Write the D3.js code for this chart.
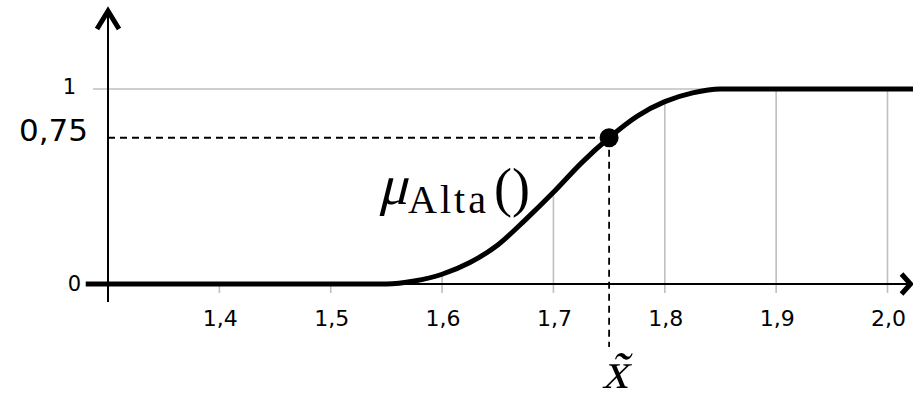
<!DOCTYPE html>
<html>
<head>
<meta charset="utf-8">
<script src="https://cdn.jsdelivr.net/npm/d3@7"></script>
<style>
  html, body { margin: 0; padding: 0; background: #fff; }
  svg { display: block; }
</style>
</head>
<body>
<svg id="chart" width="913" height="400"></svg>
<script>
// Membership function of the fuzzy set "Alta" (height in metres)
const curveX = [1.28, 1.55, 1.575, 1.60, 1.625, 1.65, 1.675, 1.70, 1.725, 1.75, 1.775, 1.80,  1.825, 1.85, 2.03];
const curveY = [0,    0,    0.015, 0.05, 0.11,  0.20, 0.33,  0.47, 0.62,  0.75, 0.86,  0.935, 0.98,  1.0,  1.0];

// Axis ticks
const xTicks = [1.4, 1.5, 1.6, 1.7, 1.8, 1.9, 2.0];
const xTickLabels = ["1,4", "1,5", "1,6", "1,7", "1,8", "1,9", "2,0"];
const yTicks = [0, 1];
const yTickLabels = ["0", "1"];

// Highlighted point
const pointX = [1.75];
const pointY = [0.75];
const pointYLabel = ["0,75"];

const svg = d3.select("#chart");
const x = d3.scaleLinear().domain([1.3, 2.0]).range([108, 887.5]);
const y = d3.scaleLinear().domain([0, 1]).range([284, 89]);

const grey = "#bfbfbf";
const data = curveX.map((v, i) => ({ x: v, y: curveY[i] }));
const valueAt = v => {
  const d = data.find(p => Math.abs(p.x - v) < 1e-9);
  return d ? d.y : (v < 1.55 ? 0 : 1);
};

// grid line at membership 1
svg.append("line")
  .attr("x1", 93).attr("x2", 913)
  .attr("y1", y(1)).attr("y2", y(1))
  .attr("stroke", grey).attr("stroke-width", 1.6);

// vertical drop lines from the curve to below the axis
svg.selectAll("line.drop").data(xTicks).join("line")
  .attr("class", "drop")
  .attr("x1", d => x(d)).attr("x2", d => x(d))
  .attr("y1", d => y(valueAt(d)))
  .attr("y2", y(0) + 9)
  .attr("stroke", grey).attr("stroke-width", 1.6);

// x axis with arrow
svg.append("line")
  .attr("x1", 94).attr("x2", 910)
  .attr("y1", y(0)).attr("y2", y(0))
  .attr("stroke", "#000").attr("stroke-width", 2);
svg.append("path")
  .attr("d", `M${x(2.0) + 14},${y(0) - 10} L${x(2.0) + 23},${y(0)} L${x(2.0) + 14},${y(0) + 10}`)
  .attr("fill", "none").attr("stroke", "#000").attr("stroke-width", 5)
  .attr("stroke-linejoin", "miter");

// y axis with arrow
svg.append("line")
  .attr("x1", x(1.3)).attr("x2", x(1.3))
  .attr("y1", 11).attr("y2", 302)
  .attr("stroke", "#000").attr("stroke-width", 2);
svg.append("path")
  .attr("d", `M${x(1.3) - 11},29 L${x(1.3)},11 L${x(1.3) + 11},29`)
  .attr("fill", "none").attr("stroke", "#000").attr("stroke-width", 5)
  .attr("stroke-linejoin", "miter");

// dashed guides to the highlighted point
svg.append("line")
  .attr("x1", x(1.3)).attr("x2", x(pointX[0]))
  .attr("y1", y(pointY[0])).attr("y2", y(pointY[0]))
  .attr("stroke", "#000").attr("stroke-width", 1.8)
  .attr("stroke-dasharray", "7,5");
svg.append("line")
  .attr("x1", x(pointX[0])).attr("x2", x(pointX[0]))
  .attr("y1", y(pointY[0])).attr("y2", 347)
  .attr("stroke", "#000").attr("stroke-width", 1.8)
  .attr("stroke-dasharray", "7,5");

// membership curve
svg.append("path")
  .datum(data)
  .attr("d", d3.line().x(d => x(d.x)).y(d => y(d.y)).curve(d3.curveMonotoneX))
  .attr("fill", "none").attr("stroke", "#000").attr("stroke-width", 5);

// highlighted point
svg.selectAll("circle.pt").data(pointX).join("circle")
  .attr("class", "pt")
  .attr("cx", (d) => x(d)).attr("cy", (d, i) => y(pointY[i]))
  .attr("r", 9.5).attr("fill", "#000");

// tick labels
const sans = "DejaVu Sans, sans-serif";
svg.selectAll("text.xt").data(xTicks).join("text")
  .attr("class", "xt")
  .attr("x", d => x(d) + 1).attr("y", y(0) + 42)
  .attr("text-anchor", "middle")
  .attr("font-family", sans).attr("font-size", 22)
  .text((d, i) => xTickLabels[i]);

svg.selectAll("text.yt").data(yTicks).join("text")
  .attr("class", "yt")
  .attr("x", (d, i) => i === 0 ? 81 : 76)
  .attr("y", d => y(d) + (d === 0 ? 7 : 5))
  .attr("text-anchor", "end")
  .attr("font-family", sans).attr("font-size", 21)
  .text((d, i) => yTickLabels[i]);

svg.append("text")
  .attr("x", 88).attr("y", y(pointY[0]) + 3)
  .attr("text-anchor", "end")
  .attr("font-family", sans).attr("font-size", 31)
  .text(pointYLabel[0]);

// function label  μ_Alta()  (math italic drawn as slanted serif)
const serif = "Liberation Serif, serif";
svg.append("text")
  .attr("transform", "translate(378,204) skewX(-14)")
  .attr("font-family", serif).attr("font-size", 56)
  .text("μ");
svg.append("text")
  .attr("x", 408).attr("y", 213)
  .attr("font-family", serif).attr("font-size", 40)
  .attr("textLength", 78).attr("lengthAdjust", "spacing")
  .text("Alta");
svg.append("text")
  .attr("x", 494).attr("y", 206)
  .attr("font-family", serif).attr("font-size", 54)
  .text("()");

// x̃ label below the dashed guide
svg.append("text")
  .attr("transform", `translate(${x(pointX[0]) + 6},388) skewX(-14)`)
  .attr("text-anchor", "middle")
  .attr("font-family", serif).attr("font-size", 52)
  .text("x\u0303");
</script>
</body>
</html>
